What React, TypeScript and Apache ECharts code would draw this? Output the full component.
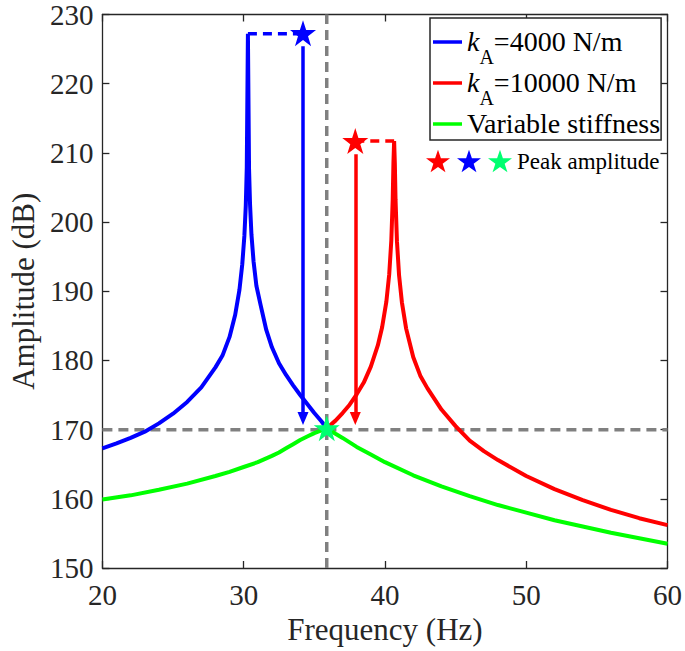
import { useEffect, useRef } from 'react';
import * as echarts from 'echarts';

// frequency (Hz) / amplitude (dB)
const blueHz = [20, 21, 22, 23, 24, 25, 26, 27, 28, 28.5, 29, 29.4, 29.7, 29.9, 30.05, 30.15, 30.22, 30.3, 30.38, 30.45, 30.55, 30.7, 30.9, 31.2, 31.6, 32, 32.5, 33, 33.5, 34, 34.5, 35, 35.5, 35.88];
const blueDb = [167.3, 168.0, 168.8, 169.7, 170.9, 172.3, 174.0, 176.1, 179.0, 180.7, 183.4, 186.6, 190.2, 193.9, 198.0, 202.4, 207.9, 227.2, 207.7, 202.6, 198.2, 194.3, 190.8, 188.0, 184.4, 181.9, 179.6, 177.9, 176.4, 175.0, 173.7, 172.4, 171.2, 170.2];

const redHz = [35.88, 36.5, 37, 37.5, 38, 38.5, 39, 39.5, 39.8, 40.1, 40.3, 40.45, 40.55, 40.6, 40.65, 40.7, 40.75, 40.85, 41.0, 41.2, 41.5, 42, 42.5, 43, 44, 45, 46, 47, 48, 50, 52, 54, 56, 58, 60];
const redDb = [170.2, 171.3, 172.4, 173.6, 175.1, 176.8, 179.1, 182.2, 184.8, 188.5, 192.4, 197.3, 203.3, 208.5, 211.7, 208.5, 203.2, 197.2, 192.3, 188.4, 184.6, 180.5, 177.8, 176.0, 172.9, 170.5, 168.4, 166.9, 165.6, 163.3, 161.4, 159.8, 158.4, 157.2, 156.2];

const greenHz = [20, 22, 24, 26, 28, 29, 30, 31, 32, 32.5, 33, 33.5, 34, 34.5, 35, 35.5, 35.88, 36.5, 37, 38, 39, 40, 42, 44, 46, 48, 50, 52, 54, 56, 58, 60];
const greenDb = [159.9, 160.5, 161.3, 162.2, 163.3, 163.9, 164.6, 165.3, 166.2, 166.7, 167.3, 167.9, 168.5, 169.0, 169.5, 169.9, 170.2, 169.4, 168.8, 167.5, 166.4, 165.3, 163.4, 161.8, 160.4, 159.1, 158.0, 156.9, 156.0, 155.1, 154.3, 153.5];

// peak stars: red, blue, green
const peakHz = [37.9, 34.2, 35.88];
const peakDb = [211.7, 227.3, 170.2];

// dashed jumps from peak to star
const blueJumpHz = [30.3, 34.2];
const blueJumpDb = [227.2, 227.2];
const redJumpHz = [37.9, 40.65];
const redJumpDb = [211.7, 211.7];

// arrows from star down to the crossing level
const blueArrowHz = 34.2;
const redArrowHz = 37.9;
const arrowDb = [225.4, 171.6];
const redArrowDb = [209.8, 171.6];

// grey reference lines
const refHHz = [20, 60];
const refHDb = [170, 170];
const refVHz = [35.88, 35.88];
const refVDb = [150, 230];

const xTicks = [20, 30, 40, 50, 60];
const yTicks = [150, 160, 170, 180, 190, 200, 210, 220, 230];

const legendNames = ['kA4000', 'kA10000', 'Variable stiffness'];
const legendLabels: Record<string, string> = {
  kA4000: '{k|k}{s|A}{t|=4000 N/m}',
  kA10000: '{k|k}{s|A}{t|=10000 N/m}',
  'Variable stiffness': '{t|Variable stiffness}',
};

const FONT = "'Liberation Serif', 'Times New Roman', serif";
const AX = '#262626';
const STAR = 'path://M50,0L61.8,35.1L98.9,35.1L68.9,56.8L80.3,91.9L50,70.2L19.7,91.9L31.1,56.8L1.1,35.1L38.2,35.1Z';

const zip = (a: number[], b: number[]) => a.map((v, i) => [v, b[i]]);

export default function App() {
  const ref = useRef<HTMLDivElement | null>(null);

  useEffect(() => {
    if (!ref.current) return;
    const chart = echarts.init(ref.current, null, { renderer: 'svg' });

    const lineAx = { onZero: false, lineStyle: { color: AX, width: 1.3 } };
    const tickAx = { inside: true, length: 7, lineStyle: { color: AX, width: 1.3 } };
    const xRange = { type: 'value', min: xTicks[0], max: xTicks[xTicks.length - 1], interval: xTicks[1] - xTicks[0] };
    const yRange = { type: 'value', min: yTicks[0], max: yTicks[yTicks.length - 1], interval: yTicks[1] - yTicks[0] };

    const curve = (name: string, hz: number[], db: number[], color: string, extra = {}) => ({
      name,
      type: 'line',
      data: zip(hz, db),
      symbol: 'none',
      showSymbol: false,
      itemStyle: { color },
      lineStyle: { color, width: 4 },
      ...extra,
    });

    const dashed = (name: string, hz: number[], db: number[], color: string, dash: number[], width = 3.5) => ({
      name,
      type: 'line',
      data: zip(hz, db),
      symbol: 'none',
      lineStyle: { color, width, type: dash },
    });

    const arrow = (x: number, db: number[], color: string) => ({
      silent: true,
      symbol: ['none', 'triangle'],
      symbolSize: [11, 13],
      label: { show: false },
      lineStyle: { color, width: 3.5, type: 'solid' },
      data: [[{ coord: [x, db[0]] }, { coord: [x, db[1]] }]],
    });

    const star = (name: string, i: number, color: string) => ({
      name,
      type: 'scatter',
      data: [[peakHz[i], peakDb[i]]],
      symbol: STAR,
      symbolSize: 26,
      itemStyle: { color, opacity: 1 },
      z: 5,
    });

    const main = { fontFamily: FONT, fontSize: 28, lineHeight: 30, verticalAlign: 'top', color: '#000' };

    const option = {
      animation: false,
      grid: { left: 89, right: 17, top: 9, bottom: 83 },
      xAxis: [
        {
          ...xRange,
          position: 'bottom',
          name: 'Frequency (Hz)',
          nameLocation: 'middle',
          nameGap: 44,
          nameTextStyle: { fontFamily: FONT, fontSize: 31, color: AX },
          axisLine: lineAx,
          axisTick: tickAx,
          axisLabel: { fontFamily: FONT, fontSize: 29, color: AX, margin: 12 },
          splitLine: { show: false },
        },
        {
          ...xRange,
          position: 'top',
          axisLine: lineAx,
          axisTick: tickAx,
          axisLabel: { show: false },
          splitLine: { show: false },
        },
      ],
      yAxis: [
        {
          ...yRange,
          position: 'left',
          name: 'Amplitude (dB)',
          nameLocation: 'middle',
          nameGap: 53,
          nameTextStyle: { fontFamily: FONT, fontSize: 31, color: AX },
          axisLine: lineAx,
          axisTick: tickAx,
          axisLabel: { fontFamily: FONT, fontSize: 29, color: AX, margin: 9 },
          splitLine: { show: false },
        },
        {
          ...yRange,
          position: 'right',
          axisLine: lineAx,
          axisTick: tickAx,
          axisLabel: { show: false },
          splitLine: { show: false },
        },
      ],
      legend: [
        {
          orient: 'vertical',
          left: 430,
          top: 18,
          itemWidth: 29,
          itemHeight: 3.5,
          itemGap: 1,
          textGap: 3,
          icon: 'rect',
          padding: [9, 1, 1, 3],
          borderColor: AX,
          borderWidth: 1.5,
          backgroundColor: '#fff',
          selectedMode: false,
          data: legendNames,
          formatter: (name: string) => legendLabels[name],
          textStyle: {
            ...main,
            rich: {
              k: { ...main, fontStyle: 'italic' },
              s: { fontFamily: FONT, fontSize: 20, lineHeight: 20, padding: [20, 0, 0, 0], verticalAlign: 'top', color: '#000' },
              t: main,
            },
          },
        },
        {
          orient: 'horizontal',
          left: 426,
          top: 149,
          itemWidth: 24,
          itemHeight: 24,
          itemGap: 7,
          textGap: 5,
          padding: 0,
          selectedMode: false,
          data: [
            { name: 'peakRed', icon: STAR },
            { name: 'peakBlue', icon: STAR },
            { name: 'peakGreen', icon: STAR },
          ],
          formatter: (name: string) => (name === 'peakGreen' ? 'Peak amplitude' : ''),
          textStyle: { fontFamily: FONT, fontSize: 23, color: '#000' },
        },
      ],
      series: [
        dashed('ref170', refHHz, refHDb, '#808080', [10, 6]),
        dashed('refFreq', refVHz, refVDb, '#808080', [10, 6]),
        curve('kA4000', blueHz, blueDb, '#0000FF', { markLine: arrow(blueArrowHz, arrowDb, '#0000FF') }),
        curve('kA10000', redHz, redDb, '#FF0000', { markLine: arrow(redArrowHz, redArrowDb, '#FF0000') }),
        curve('Variable stiffness', greenHz, greenDb, '#00FF00'),
        dashed('blueJump', blueJumpHz, blueJumpDb, '#0000FF', [9, 6]),
        dashed('redJump', redJumpHz, redJumpDb, '#FF0000', [9, 6]),
        star('peakRed', 0, '#FF0000'),
        star('peakBlue', 1, '#0000FF'),
        star('peakGreen', 2, '#00FF70'),
      ],
    };

    chart.setOption(option);
    return () => chart.dispose();
  }, []);

  return <div ref={ref} style={{ position: 'absolute', left: 0, top: 0, width: 685, height: 651 }} />;
}
